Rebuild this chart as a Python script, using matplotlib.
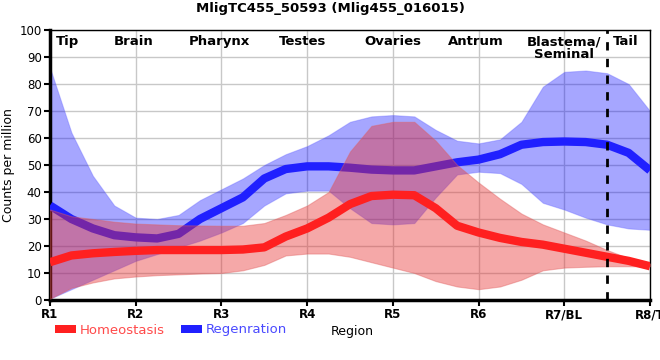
import matplotlib
matplotlib.use("Agg")
import matplotlib.pyplot as plt
from matplotlib.patches import Patch
import numpy as np

# sample positions along the body axis (0 = R1 ... 7 = R8/T), quarter steps
pos = np.arange(29) * 0.25

tick_labels = ["R1", "R2", "R3", "R4", "R5", "R6", "R7/BL", "R8/T"]
regions = ["Tip", "Brain", "Pharynx", "Testes", "Ovaries", "Antrum", "Blastema/\nSeminal", "Tail"]
region_pos = [0.2, 0.97, 1.98, 2.95, 4.0, 4.97, 6.0, 6.72]

homeo_mean = [14, 16.5, 17.3, 17.8, 18.2, 18.5, 18.5, 18.5, 18.5, 18.7, 19.5, 23.5, 26.5, 30.5,
              35.5, 38.5, 39, 38.8, 34, 27.5, 25, 23, 21.5, 20.5, 19, 17.5, 16, 14.5, 12.5]
homeo_hi = [33.5, 31, 30, 29, 28.3, 28, 27.7, 27.6, 27.5, 27.5, 28.5, 31.5, 35, 40,
            55, 64.5, 66, 66, 59, 50, 43.5, 37.5, 32, 28, 25, 22, 18.5, 15.5, 13.5]
homeo_lo = [0.5, 4.5, 6.5, 8, 8.7, 9.2, 9.5, 9.8, 10, 11, 13, 16.5, 17.2, 17.2,
            16, 14, 12, 10, 7, 5, 4, 5, 7.5, 11, 12, 12.3, 12.5, 12.5, 12.5]

regen_mean = [35, 30, 26.5, 24, 23.2, 22.8, 24.5, 30, 34, 38, 45, 48.5, 49.5, 49.5,
              49, 48.3, 48, 48, 49.5, 51, 52, 54, 57.5, 58.5, 58.7, 58.5, 57.5, 54.5, 48]
regen_hi = [86, 62, 46, 35, 30.5, 30, 31.5, 37, 41, 45, 50, 54, 57, 61,
            66, 68, 68.5, 68, 63, 59, 58, 59.5, 66, 79, 84.5, 85, 84, 80, 70]
regen_lo = [0.5, 4, 7.5, 11, 14.5, 17, 19.5, 22, 25, 28.5, 35, 39.5, 40.5, 40.5,
            34, 28.5, 28, 28.5, 38, 46.5, 47.5, 47, 43, 36, 33.5, 30.5, 28, 26.5, 26]

red = "#ff2020"
blue = "#2020ff"

fig = plt.figure(figsize=(6.6, 3.6), dpi=100)
ax = fig.add_axes([50 / 660, 1 - 300 / 360, 600 / 660, 270 / 360])

ax.fill_between(pos, regen_lo, regen_hi, color="#0000ff", alpha=0.35, lw=0.8, edgecolor="#6060ff", zorder=2)
ax.plot(pos, regen_mean, color=blue, lw=6, solid_capstyle="butt", solid_joinstyle="round", zorder=3)
ax.fill_between(pos, homeo_lo, homeo_hi, color="#e83030", alpha=0.42, lw=0.8, edgecolor="#e06060", zorder=4)
ax.plot(pos, homeo_mean, color=red, lw=6, solid_capstyle="butt", solid_joinstyle="round", zorder=5)

ax.axvline(6.5, color="black", ls=(0, (3, 3)), lw=2, zorder=6)

ax.set_xlim(0, 7)
ax.set_ylim(0, 100)
ax.set_xticks(range(8))
ax.set_xticklabels(tick_labels, fontweight="bold", fontsize=8.5)
ax.set_yticks(range(0, 101, 10))
ax.tick_params(axis="y", labelsize=8.5, length=4, width=1.5, pad=2)
ax.tick_params(axis="x", length=4, width=1.5, pad=2)
ax.grid(True, color="#c8c8c8", lw=1, zorder=0)
ax.set_axisbelow(True)
for side in ["left", "bottom"]:
    ax.spines[side].set_linewidth(2.5)
for side in ["top", "right"]:
    ax.spines[side].set_linewidth(1)

for name, x in zip(regions, region_pos):
    ax.text(x, 98, name, ha="center", va="top", fontsize=9.5, fontweight="bold",
            linespacing=0.95, zorder=7)

ax.set_ylabel("Counts per million", fontsize=9)
ax.yaxis.set_label_coords(-35 / 600, 0.5)
fig.suptitle("MligTC455_50593 (Mlig455_016015)", fontsize=9.5, fontweight="bold", y=0.995)
fig.text(352 / 660, 1 - 331 / 360, "Region", ha="center", va="center", fontsize=9)

handles = [Patch(facecolor=red), Patch(facecolor=blue)]
leg = fig.legend(handles, ["Homeostasis", "Regenration"], loc="center left",
                 bbox_to_anchor=(55 / 660, 1 - 330 / 360), ncol=2, frameon=False,
                 handlelength=1.6, handleheight=0.5, handletextpad=0.3, columnspacing=1.2,
                 borderaxespad=0, borderpad=0, prop={"size": 9.5})
leg.get_texts()[0].set_color("#ff4a4a")
leg.get_texts()[1].set_color("#4a4aff")

fig.savefig("out.png", dpi=100)
